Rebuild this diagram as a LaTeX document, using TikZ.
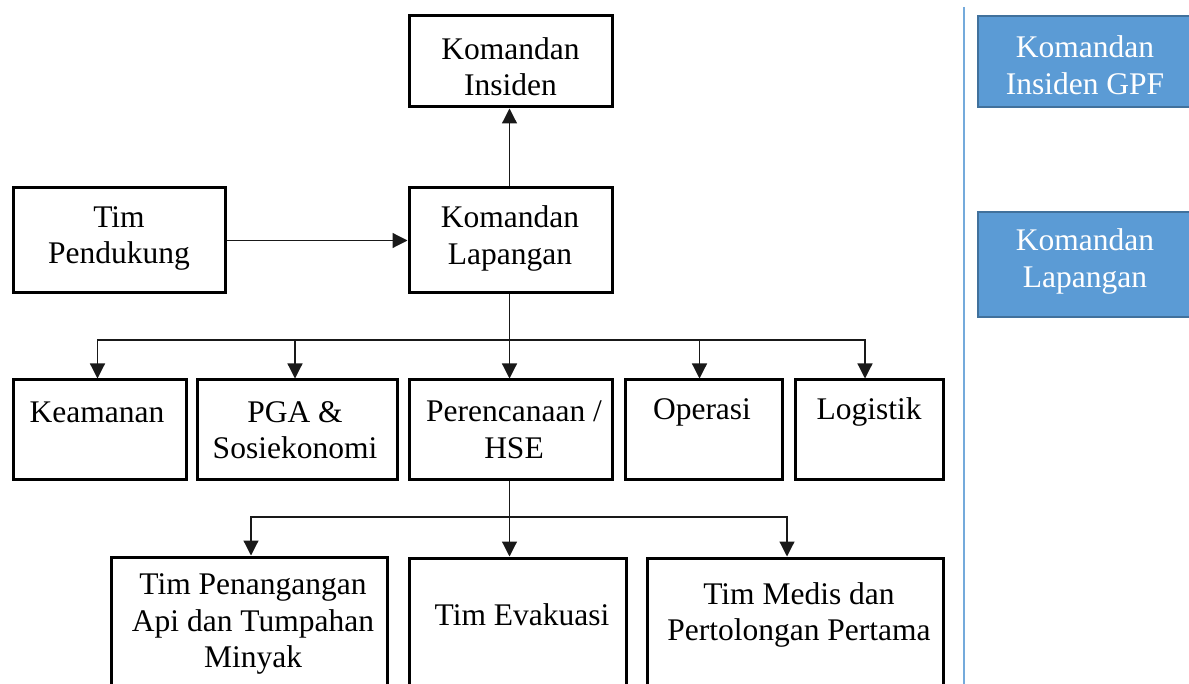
\documentclass[tikz,border=0pt]{standalone}
\usepackage{fontspec}
\setmainfont{Liberation Serif}
\usetikzlibrary{arrows.meta,calc,fit}
\definecolor{boxblue}{HTML}{5B9BD5}
\definecolor{boxedge}{HTML}{41719C}

\begin{document}
\begin{tikzpicture}[x=1pt,y=-1pt,
  orgbox/.style={draw=black, line width=3pt, inner sep=0pt},
  bluebox/.style={draw=boxedge, fill=boxblue, line width=2.5pt, inner sep=0pt},
  lbl/.style={font=\fontsize{31.5}{36.5}\selectfont, align=center, inner sep=0pt},
  wlbl/.style={lbl, text=white},
  link/.style={draw=black!90, line width=1.2pt},
  arr/.style={link, -{Triangle[length=15pt,width=15pt]}},
]
\useasboundingbox (0,0) rectangle (1189,684);
\clip (0,0) rectangle (1189,684);

% boxes of the command structure
\node[orgbox, fit={(409,16) (612,107)}] (ki) {};
\node[orgbox, fit={(13,188) (225,293)}] (tp) {};
\node[orgbox, fit={(409,188) (612,293)}] (kl) {};
\node[orgbox, fit={(13,380) (186,479)}] (kea) {};
\node[orgbox, fit={(197,380) (397,479)}] (pga) {};
\node[orgbox, fit={(409,380) (612,479)}] (per) {};
\node[orgbox, fit={(625,380) (782,479)}] (ope) {};
\node[orgbox, fit={(795,380) (943,479)}] (log) {};
\node[orgbox, fit={(111,557) (387,730)}] (tpa) {};
\node[orgbox, fit={(409,558) (626,730)}] (tev) {};
\node[orgbox, fit={(647,558) (943,730)}] (tme) {};

% box texts
\node[lbl] (kit) at (510.5,66.5) {Komandan\\Insiden};
\node[lbl] (tpt) at (119,238.5) {Tim\\Pendukung};
\node[lbl] (klt) at (510,238.5) {Komandan\\Lapangan};
\node[lbl] (keat) at (97,412) {Keamanan};
\node[lbl] (pgat) at (295,430) {PGA \&\\Sosiekonomi};
\node[lbl] (pert) at (514,430) {Perencanaan /\\HSE};
\node[lbl] (opet) at (702,412) {Operasi};
\node[lbl] (logt) at (869,412) {Logistik};
\node[lbl] (tpat) at (253,624) {Tim Penangangan\\Api dan Tumpahan\\Minyak};
\node[lbl] (tevt) at (522,615) {Tim Evakuasi};
\node[lbl] (tmet) at (799,615) {Tim Medis dan\\Pertolongan Pertama};

% connectors
\draw[arr] ([xshift=-1pt]kl.north) -- ([xshift=-1pt]ki.south);
\draw[arr] (tp.east) -- (kl.west);

\coordinate (bus1) at ([xshift=-1pt]kl.south |- 0,340);
\draw[link] ([xshift=-1pt]kl.south) -- (bus1);
\draw[arr] (bus1) -| ([xshift=-2pt]kea.north);
\draw[arr] (bus1) -| ([xshift=-2pt]pga.north);
\draw[arr] (bus1) -- (bus1 |- per.north);
\draw[arr] (bus1) -| ([xshift=-4pt]ope.north);
\draw[arr] (bus1) -| ([xshift=-4pt]log.north);

\coordinate (bus2) at ([xshift=-1pt]per.south |- 0,517);
\draw[link] ([xshift=-1pt]per.south) -- (bus2);
\draw[arr] (bus2) -| ([xshift=2pt]tpa.north);
\draw[arr] (bus2) -- (bus2 |- tev.north);
\draw[arr] (bus2) -| ([xshift=-8pt]tme.north);

% legend column
\draw[boxblue!85, line width=1.5pt] (964,7) -- (964,684);
\node[bluebox, fit={(978,16) (1192,107)}] (gpf) {};
\node[bluebox, fit={(978,212) (1192,317)}] (kbl) {};
\node[wlbl] (gpft) at (1085,65) {Komandan\\Insiden GPF};
\node[wlbl] (kblt) at (1085,261.5) {Komandan\\Lapangan};
\end{tikzpicture}
\end{document}
